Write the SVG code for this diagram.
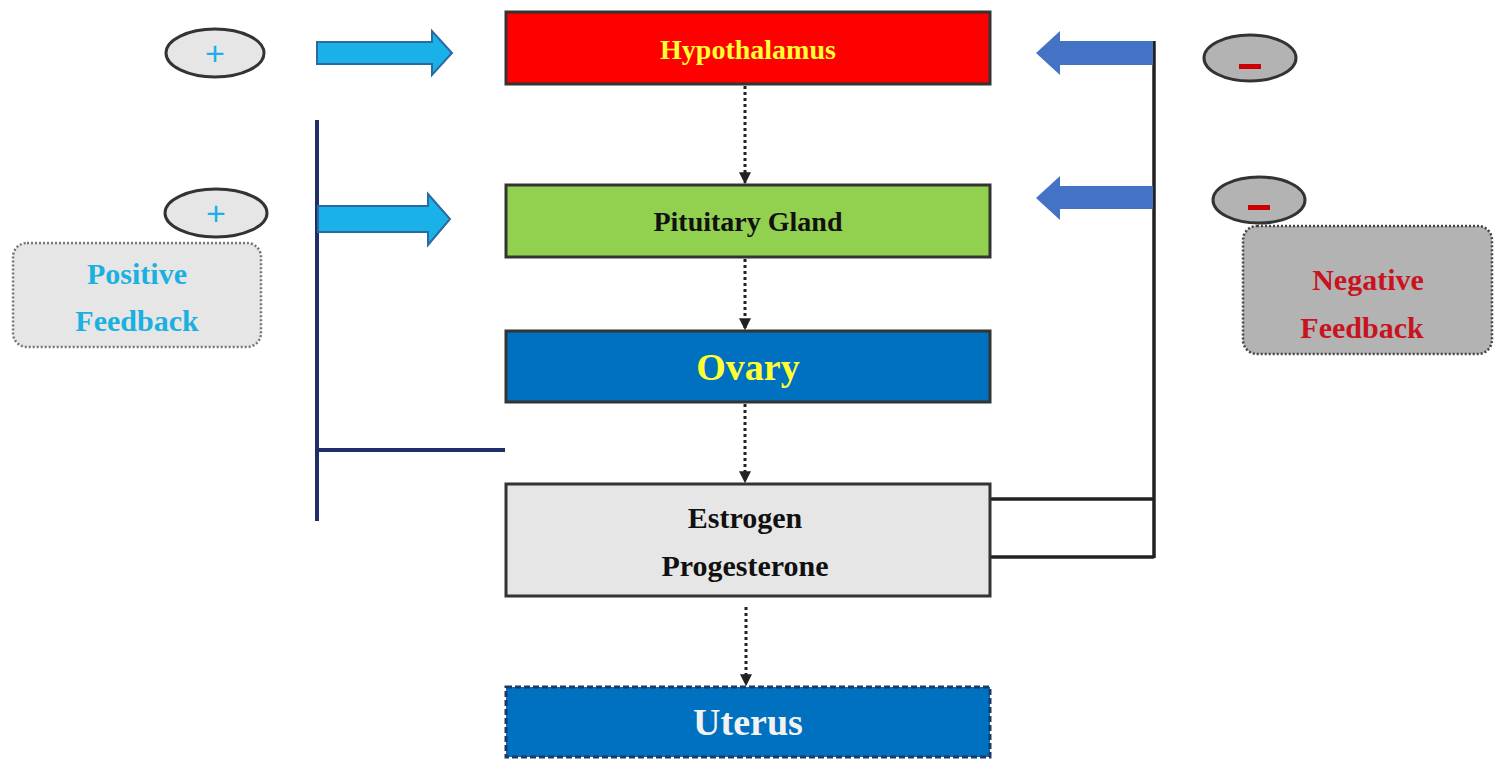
<svg xmlns="http://www.w3.org/2000/svg" width="1504" height="773" viewBox="0 0 1504 773">
<defs>
<style>
.t{font-family:"Liberation Serif",serif;font-weight:bold;text-anchor:middle}
.box{stroke:#333;stroke-width:3}
.dot{stroke:#222;stroke-width:3;stroke-dasharray:3 3;fill:none}
.ell{fill:#e6e6e6;stroke:#333;stroke-width:3}
</style>
<marker id="ah" viewBox="0 0 10 10" refX="9" refY="5" markerWidth="4" markerHeight="4" orient="auto"><path d="M0,0L10,5L0,10z" fill="#222"/></marker>
</defs>
<rect width="1504" height="773" fill="#fff"/>
<g id="connectors">
<line class="dot" x1="745" y1="86" x2="745" y2="183" marker-end="url(#ah)"/>
<line class="dot" x1="745" y1="259" x2="745" y2="329" marker-end="url(#ah)"/>
<line class="dot" x1="745" y1="404" x2="745" y2="482" marker-end="url(#ah)"/>
<line class="dot" x1="746" y1="607" x2="746" y2="685" marker-end="url(#ah)"/>
<path d="M317,120V521M317,450H505" stroke="#1f2d6b" stroke-width="4" fill="none"/>
<path d="M990,499H1154M990,557H1154M1154,41V558" stroke="#222" stroke-width="3.5" fill="none"/>
<path d="M317,42H432V31L452,53L432,75V64H317z" fill="#1ab0e8" stroke="#2a6aa0" stroke-width="2"/>
<path d="M318,206H428V194L450,219L428,245V232H318z" fill="#1ab0e8" stroke="#2a6aa0" stroke-width="2"/>
<path d="M1153,41H1060V31L1036,53L1060,75V65H1153z" fill="#4472c4"/>
<path d="M1153,186H1060V176L1036,198L1060,220V209H1153z" fill="#4472c4"/>
</g>
<g id="hypothalamus"><rect class="box" x="506" y="12" width="484" height="72" fill="#ff0000"/><text class="t" x="748" y="59" font-size="28" fill="#ffff33">Hypothalamus</text></g>
<g id="pituitary"><rect class="box" x="506" y="185" width="484" height="72" fill="#92d050"/><text class="t" x="748" y="231" font-size="28" fill="#111">Pituitary Gland</text></g>
<g id="ovary"><rect class="box" x="506" y="331" width="484" height="71" fill="#0070c0"/><text class="t" x="748" y="380" font-size="38" fill="#ffff33">Ovary</text></g>
<g id="hormones"><rect class="box" x="506" y="484" width="484" height="112" fill="#e6e6e6"/><text class="t" x="745" y="528" font-size="30" fill="#111">Estrogen</text><text class="t" x="745" y="576" font-size="30" fill="#111">Progesterone</text></g>
<g id="uterus"><rect x="506" y="687" width="484" height="70" fill="#0070c0" stroke="#1f3864" stroke-width="3" stroke-dasharray="6 3"/><text class="t" x="748" y="735" font-size="38" fill="#f2f2f2">Uterus</text></g>
<g id="plus1"><ellipse class="ell" cx="215" cy="53" rx="49" ry="24"/><text x="215" y="65" font-family="Liberation Sans,sans-serif" font-size="34" text-anchor="middle" fill="#1ab0e8">+</text></g>
<g id="plus2"><ellipse class="ell" cx="216" cy="213" rx="51" ry="24"/><text x="216" y="225" font-family="Liberation Sans,sans-serif" font-size="34" text-anchor="middle" fill="#1ab0e8">+</text></g>
<g id="positive"><rect x="13" y="243" width="248" height="104" rx="14" fill="#e6e6e6" stroke="#777" stroke-width="2.5" stroke-dasharray="2 2"/><text class="t" x="137" y="284" font-size="30" fill="#1ab0e0">Positive</text><text class="t" x="137" y="331" font-size="30" fill="#1ab0e0">Feedback</text></g>
<g id="minus1"><ellipse cx="1250" cy="58" rx="46" ry="23" fill="#b3b3b3" stroke="#333" stroke-width="3"/><rect x="1239" y="64" width="22" height="5" fill="#cc0000"/></g>
<g id="minus2"><ellipse cx="1259" cy="200" rx="46" ry="23" fill="#b3b3b3" stroke="#333" stroke-width="3"/><rect x="1248" y="205" width="22" height="5" fill="#cc0000"/></g>
<g id="negative"><rect x="1243" y="226" width="249" height="128" rx="14" fill="#b3b3b3" stroke="#444" stroke-width="2.5" stroke-dasharray="2 2"/><text class="t" x="1368" y="290" font-size="30" fill="#c8141e">Negative</text><text class="t" x="1362" y="338" font-size="30" fill="#c8141e">Feedback</text></g>
</svg>
